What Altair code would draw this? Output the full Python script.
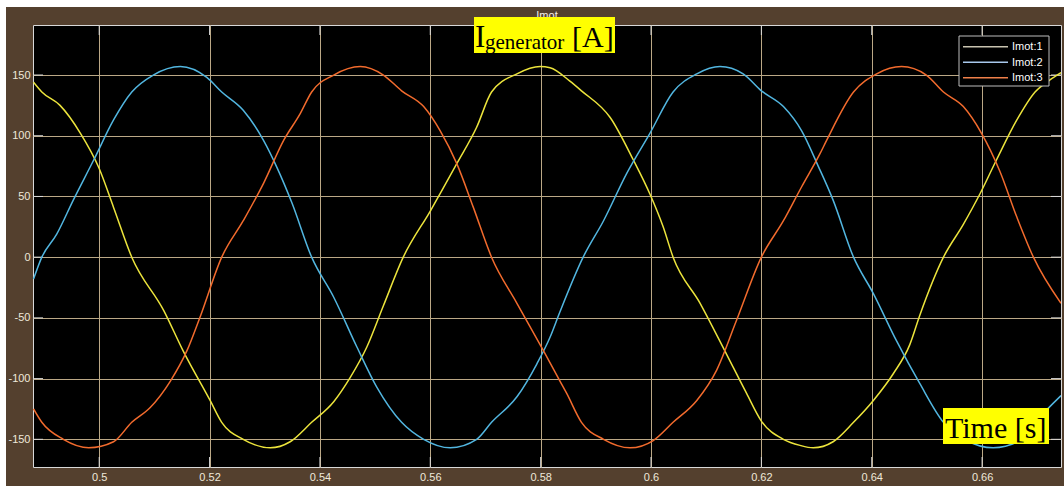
import altair as alt
import pandas as pd

# ---------------- data ----------------
series_names = ["Imot:1", "Imot:2", "Imot:3"]
line_colors = ["#ece43c", "#52b6e0", "#f26b2d"]
legend_colors = ["#c9c3b0", "#a8c8ec", "#f0804a"]

t1 = [0.4881, 0.4896, 0.4929, 0.4966, 0.4999, 0.5026, 0.5059, 0.5117, 0.5153, 0.5201,
      0.5222, 0.5261, 0.5310, 0.5346, 0.5385, 0.5425, 0.5455, 0.5485, 0.5515, 0.5551,
      0.5600, 0.5648, 0.5684, 0.5711, 0.5757, 0.5799, 0.5817, 0.5853, 0.5874, 0.5926,
      0.5968, 0.5998, 0.6022, 0.6040, 0.6089, 0.6137, 0.6173, 0.6200, 0.6240, 0.6270,
      0.6294, 0.6330, 0.6367, 0.6403, 0.6439, 0.6469, 0.6487, 0.6530, 0.6566, 0.6596,
      0.6626, 0.6663, 0.6696, 0.6723, 0.6743]
v1 = [144, 136, 125, 102, 74, 41, 0, -44, -78, -118,
      -136, -150, -157, -152, -136, -119, -99, -74, -40, 0,
      38, 77, 107, 136, 151, 157, 156, 145, 137, 115,
      80, 52, 25, 0, -38, -80, -112, -135, -150, -155,
      -157, -152, -136, -118, -96, -72, -48, 0, 27, 52,
      80, 113, 136, 146, 152]

t2 = [0.4881, 0.4896, 0.4923, 0.4953, 0.4990, 0.5026, 0.5059, 0.5098, 0.5147, 0.5195,
      0.5222, 0.5261, 0.5298, 0.5322, 0.5349, 0.5385, 0.5425, 0.5467, 0.5503, 0.5548,
      0.5588, 0.5636, 0.5684, 0.5711, 0.5757, 0.5793, 0.5817, 0.5835, 0.5877, 0.5914,
      0.5956, 0.5998, 0.6040, 0.6083, 0.6125, 0.6167, 0.6200, 0.6240, 0.6273, 0.6303,
      0.6330, 0.6367, 0.6403, 0.6445, 0.6487, 0.6530, 0.6572, 0.6620, 0.6669, 0.6696,
      0.6743]
v2 = [-18, 0, 19, 47, 80, 113, 136, 150, 157, 148,
      136, 121, 96, 74, 45, 0, -33, -74, -107, -136,
      -150, -157, -150, -136, -115, -88, -66, -45, 0, 30,
      69, 102, 136, 151, 157, 151, 137, 124, 104, 75,
      47, 0, -30, -69, -104, -136, -151, -157, -151, -136,
      -114]

t3 = [0.4881, 0.4896, 0.4935, 0.4981, 0.5026, 0.5059, 0.5092, 0.5129, 0.5159, 0.5183,
      0.5222, 0.5261, 0.5298, 0.5334, 0.5364, 0.5385, 0.5425, 0.5473, 0.5515, 0.5548,
      0.5588, 0.5618, 0.5648, 0.5678, 0.5711, 0.5757, 0.5805, 0.5835, 0.5847, 0.5874,
      0.5914, 0.5962, 0.6004, 0.6040, 0.6083, 0.6119, 0.6155, 0.6200, 0.6240, 0.6273,
      0.6306, 0.6318, 0.6367, 0.6409, 0.6454, 0.6499, 0.6530, 0.6566, 0.6599, 0.6632,
      0.6663, 0.6693, 0.6743]
v3 = [-125, -136, -150, -157, -152, -136, -124, -102, -77, -49,
      0, 30, 61, 96, 118, 136, 150, 157, 150, 137,
      124, 104, 77, 41, 0, -38, -77, -102, -112, -136,
      -150, -157, -151, -136, -118, -93, -52, 0, 30, 58,
      85, 96, 136, 151, 157, 150, 136, 124, 102, 71,
      33, 0, -38]

x_ticks = [0.5, 0.52, 0.54, 0.56, 0.58, 0.6, 0.62, 0.64, 0.66]
y_ticks = [-150, -100, -50, 0, 50, 100, 150]
x_domain = [0.488, 0.6743]
y_domain = [-172.8, 191.2]

title_text = "Imot"
ylab_main = "I"
ylab_sub = "generator"
ylab_unit = "[A]"
xlab = "Time [s]"

# ---------------- styling ----------------
W, H = 1028, 442
BROWN = "#54402e"
GRID = "#bba886"
TICK = "#d8d8d8"
LABEL = "#efe8da"
SANS = "Liberation Sans"
SERIF = "Liberation Serif"

rows = []
for name, col, ts, vs in zip(series_names, line_colors, [t1, t2, t3], [v1, v2, v3]):
    for t, v in zip(ts, vs):
        rows.append({"t": t, "v": v, "series": name, "col": col})
df = pd.DataFrame(rows)

one = pd.DataFrame({"k": [0]})

xscale = alt.Scale(domain=x_domain, nice=False, zero=False)
yscale = alt.Scale(domain=y_domain, nice=False, zero=False)
xaxis = alt.Axis(values=x_ticks, format=".2~f", grid=True, gridColor=GRID, gridWidth=1,
                 domain=False, ticks=False, tickSize=0, labelColor=LABEL, labelFont=SANS,
                 labelFontSize=11, labelPadding=4, title=None, labelFlush=False)
yaxis = alt.Axis(values=y_ticks, labelExpr="'' + datum.value", grid=True, gridColor=GRID,
                 gridWidth=1, domain=False, ticks=False, tickSize=0, labelColor=LABEL,
                 labelFont=SANS, labelFontSize=11, labelPadding=3, title=None, labelFlush=False)

X = alt.X("t:Q", scale=xscale, axis=xaxis)
Y = alt.Y("v:Q", scale=yscale, axis=yaxis)

layers = []

# white strips at the top and left edges of the picture
layers.append(alt.Chart(one).mark_rect(color="white").encode(
    x=alt.value(-33), x2=alt.value(W + 3), y=alt.value(-25), y2=alt.value(-18)))
layers.append(alt.Chart(one).mark_rect(color="white").encode(
    x=alt.value(-33), x2=alt.value(-27), y=alt.value(-25), y2=alt.value(H + 19)))

# inward tick marks
xt = pd.DataFrame({"t": x_ticks})
yt = pd.DataFrame({"v": y_ticks})
layers.append(alt.Chart(xt).mark_rule(color=TICK).encode(x=X, y=alt.value(0), y2=alt.value(10)))
layers.append(alt.Chart(xt).mark_rule(color=TICK).encode(x=X, y=alt.value(H - 10), y2=alt.value(H)))
layers.append(alt.Chart(yt).mark_rule(color=TICK).encode(y=Y, x=alt.value(0), x2=alt.value(10)))
layers.append(alt.Chart(yt).mark_rule(color=TICK).encode(y=Y, x=alt.value(W - 10), x2=alt.value(W)))

# the three currents
layers.append(alt.Chart(df).mark_line(clip=True, strokeWidth=1.5, interpolate="monotone").encode(
    x=X, y=Y, detail="series:N", stroke=alt.Stroke("col:N", scale=None)))

# legend box
layers.append(alt.Chart(one).mark_rect(fill="black", stroke="#bdbdbd", strokeWidth=1).encode(
    x=alt.value(926), x2=alt.value(1016), y=alt.value(11), y2=alt.value(61)))
for i, (name, col) in enumerate(zip(series_names, legend_colors)):
    ly = 21.7 + 15.5 * i
    layers.append(alt.Chart(one).mark_rule(color=col, strokeWidth=1.5).encode(
        x=alt.value(930), x2=alt.value(975), y=alt.value(ly)))
    layers.append(alt.Chart(one).mark_text(align="left", baseline="middle", color="white",
                                           font=SANS, fontSize=11).encode(
        x=alt.value(979), y=alt.value(ly + 0.5), text=alt.value(name)))

# small title (partly hidden by the yellow label)
layers.append(alt.Chart(one).mark_text(align="center", baseline="bottom", color="#f4f0e8",
                                       font=SANS, fontSize=11).encode(
    x=alt.value(W / 2), y=alt.value(-4), text=alt.value(title_text)))

# y-label annotation
layers.append(alt.Chart(one).mark_rect(color="#ffff00").encode(
    x=alt.value(441), x2=alt.value(582), y=alt.value(-8), y2=alt.value(28)))
layers.append(alt.Chart(one).mark_text(align="left", baseline="alphabetic", color="black",
                                       font=SERIF, fontSize=31).encode(
    x=alt.value(442), y=alt.value(22), text=alt.value(ylab_main)))
layers.append(alt.Chart(one).mark_text(align="left", baseline="alphabetic", color="black",
                                       font=SERIF, fontSize=21).encode(
    x=alt.value(452), y=alt.value(24), text=alt.value(ylab_sub)))
layers.append(alt.Chart(one).mark_text(align="left", baseline="alphabetic", color="black",
                                       font=SERIF, fontSize=30).encode(
    x=alt.value(539), y=alt.value(22), text=alt.value(ylab_unit)))

# x-label annotation
layers.append(alt.Chart(one).mark_rect(color="#ffff00").encode(
    x=alt.value(910), x2=alt.value(1016), y=alt.value(383), y2=alt.value(419)))
layers.append(alt.Chart(one).mark_text(align="left", baseline="alphabetic", color="black",
                                       font=SERIF, fontSize=30).encode(
    x=alt.value(912), y=alt.value(413), text=alt.value(xlab)))

chart = alt.layer(*layers).properties(
    width=W, height=H, background=BROWN, autosize="none",
    padding={"left": 33, "top": 25, "right": 3, "bottom": 19},
).configure_view(fill="black", stroke="#d8d8d8", strokeWidth=1)

chart.save("out.html", embed_options={"renderer": "svg", "actions": False})
